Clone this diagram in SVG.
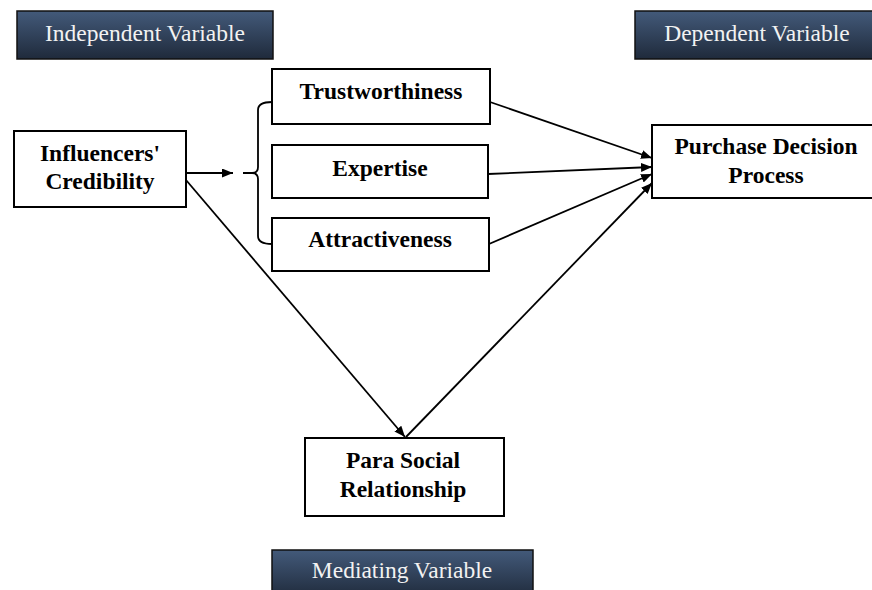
<svg xmlns="http://www.w3.org/2000/svg" width="872" height="590" viewBox="0 0 872 590">
<defs>
<linearGradient id="varGrad" x1="0" y1="0" x2="0" y2="1">
<stop offset="0" stop-color="#435a7a"/>
<stop offset="1" stop-color="#1f2a3b"/>
</linearGradient>
<marker id="arr" markerWidth="12" markerHeight="10" refX="11" refY="4.5" orient="auto" markerUnits="userSpaceOnUse">
<path d="M0,0 L11,4.5 L0,9 Z" fill="#000"/>
</marker>
<style>
.var rect{fill:url(#varGrad);stroke:#111;stroke-width:1.5}
.var text{font-family:"Liberation Serif","Times New Roman",serif;font-size:23.5px;fill:#f2f2f2;text-anchor:middle}
.node rect{fill:#fff;stroke:#000;stroke-width:2}
.node text{font-family:"Liberation Serif","Times New Roman",serif;font-size:23.5px;font-weight:bold;fill:#000;text-anchor:middle}
.conn path,.conn line{fill:none;stroke:#000;stroke-width:1.8}
</style>
</defs>
<rect width="872" height="590" fill="#fff"/>

<g id="independent-variable" class="var">
<rect x="17" y="11" width="256" height="48"/>
<text x="145" y="41">Independent Variable</text>
</g>
<g id="dependent-variable" class="var">
<rect x="635" y="11" width="245" height="48"/>
<text x="757" y="41">Dependent Variable</text>
</g>
<g id="mediating-variable" class="var">
<rect x="272" y="550" width="261" height="48"/>
<text x="402" y="578">Mediating Variable</text>
</g>

<g id="influencers-credibility" class="node">
<rect x="14" y="131" width="172" height="76"/>
<text x="100" y="161">Influencers'</text>
<text x="100" y="189">Credibility</text>
</g>
<g id="trustworthiness" class="node">
<rect x="272" y="69" width="218" height="55"/>
<text x="381" y="99">Trustworthiness</text>
</g>
<g id="expertise" class="node">
<rect x="272" y="145" width="216" height="53"/>
<text x="380" y="176">Expertise</text>
</g>
<g id="attractiveness" class="node">
<rect x="272" y="218" width="217" height="53"/>
<text x="380" y="247">Attractiveness</text>
</g>
<g id="purchase-decision-process" class="node">
<rect x="652" y="125" width="228" height="73"/>
<text x="766" y="154">Purchase Decision</text>
<text x="766" y="183">Process</text>
</g>
<g id="para-social-relationship" class="node">
<rect x="305" y="438" width="199" height="78"/>
<text x="403" y="468">Para Social</text>
<text x="403" y="497">Relationship</text>
</g>

<g id="connectors" class="conn">
<line x1="186" y1="173" x2="233" y2="173" marker-end="url(#arr)"/>
<path d="M272,102 Q258,102 258,110 L258,167 Q258,173 252,173 L243,173 M252,173 Q258,173 258,179 L258,236 Q258,244 272,244"/>
<line x1="490" y1="102" x2="652" y2="158" marker-end="url(#arr)"/>
<line x1="488" y1="174" x2="652" y2="167" marker-end="url(#arr)"/>
<line x1="489" y1="244" x2="652" y2="174" marker-end="url(#arr)"/>
<line x1="186" y1="180" x2="405" y2="437" marker-end="url(#arr)"/>
<line x1="406" y1="437" x2="652" y2="183" marker-end="url(#arr)"/>
</g>
</svg>
